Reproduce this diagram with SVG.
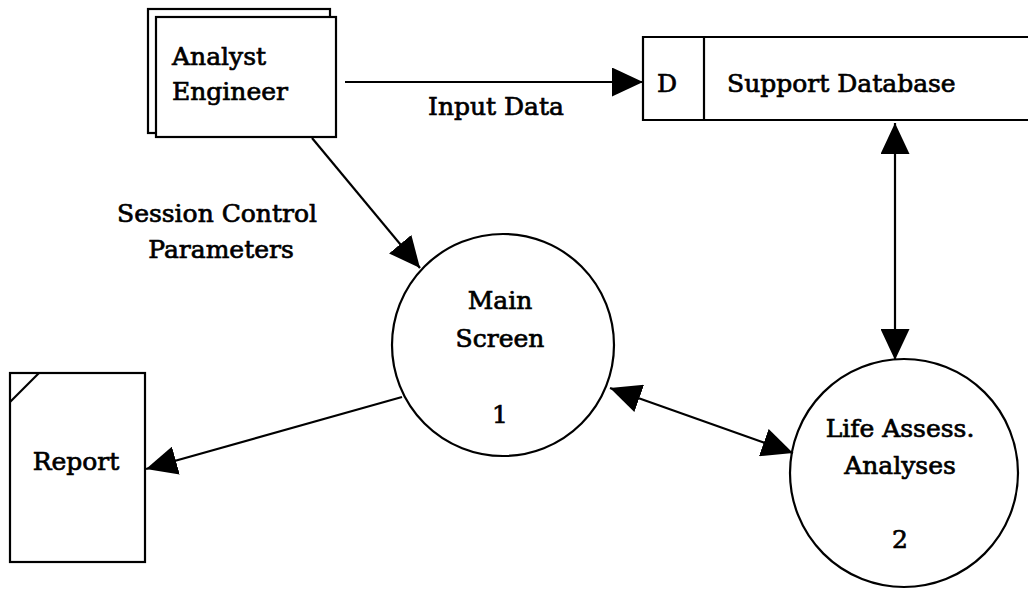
<svg xmlns="http://www.w3.org/2000/svg" width="1028" height="590" viewBox="0 0 1028 590">
<style>
.shape{fill:#fff;stroke:#000;stroke-width:2.2}
.line{fill:none;stroke:#000;stroke-width:2.2}
text{font-family:"DejaVu Serif","Liberation Serif",serif;font-size:25px;fill:#000;stroke:#000;stroke-width:0.7}
.c{text-anchor:middle}
</style>
<defs>
<marker id="arr" markerUnits="userSpaceOnUse" markerWidth="31" markerHeight="29" refX="31" refY="14.5" orient="auto-start-reverse">
<path d="M0,0 L31,14.5 L0,29 z" fill="#000"/>
</marker>
</defs>
<rect width="1028" height="590" fill="#fff"/>
<g id="analyst">
<rect class="shape" x="148" y="9" width="182" height="124"/>
<rect class="shape" x="156" y="17" width="180" height="120"/>
<text x="172" y="65">Analyst</text>
<text x="172" y="100">Engineer</text>
</g>
<g id="support-db">
<path class="shape" d="M1040,37 L643,37 L643,120 L1040,120"/>
<line class="line" x1="704" y1="37" x2="704" y2="120"/>
<text class="c" x="667" y="92">D</text>
<text x="727" y="92">Support Database</text>
</g>
<g id="main-screen">
<circle class="shape" cx="503" cy="345" r="111"/>
<text class="c" x="500" y="309">Main</text>
<text class="c" x="500" y="347">Screen</text>
<text class="c" x="500" y="423">1</text>
</g>
<g id="life-assess">
<circle class="shape" cx="904" cy="473" r="114"/>
<text class="c" x="900" y="437">Life Assess.</text>
<text class="c" x="900" y="474">Analyses</text>
<text class="c" x="900" y="548">2</text>
</g>
<g id="report">
<rect class="shape" x="10" y="373" width="135" height="189"/>
<line class="line" x1="10" y1="402" x2="39" y2="373"/>
<text class="c" x="76" y="470">Report</text>
</g>
<g id="connectors">
<line class="line" x1="345" y1="82" x2="643" y2="82" marker-end="url(#arr)"/>
<line class="line" x1="312" y1="138" x2="420" y2="268" marker-end="url(#arr)"/>
<line class="line" x1="402" y1="397" x2="146" y2="469" marker-end="url(#arr)"/>
<line class="line" x1="610" y1="388" x2="793" y2="453" marker-start="url(#arr)" marker-end="url(#arr)"/>
<line class="line" x1="895" y1="123" x2="895" y2="360" marker-start="url(#arr)" marker-end="url(#arr)"/>
<text x="428" y="115">Input Data</text>
<text class="c" x="217" y="222">Session Control</text>
<text class="c" x="221" y="258">Parameters</text>
</g>
</svg>
